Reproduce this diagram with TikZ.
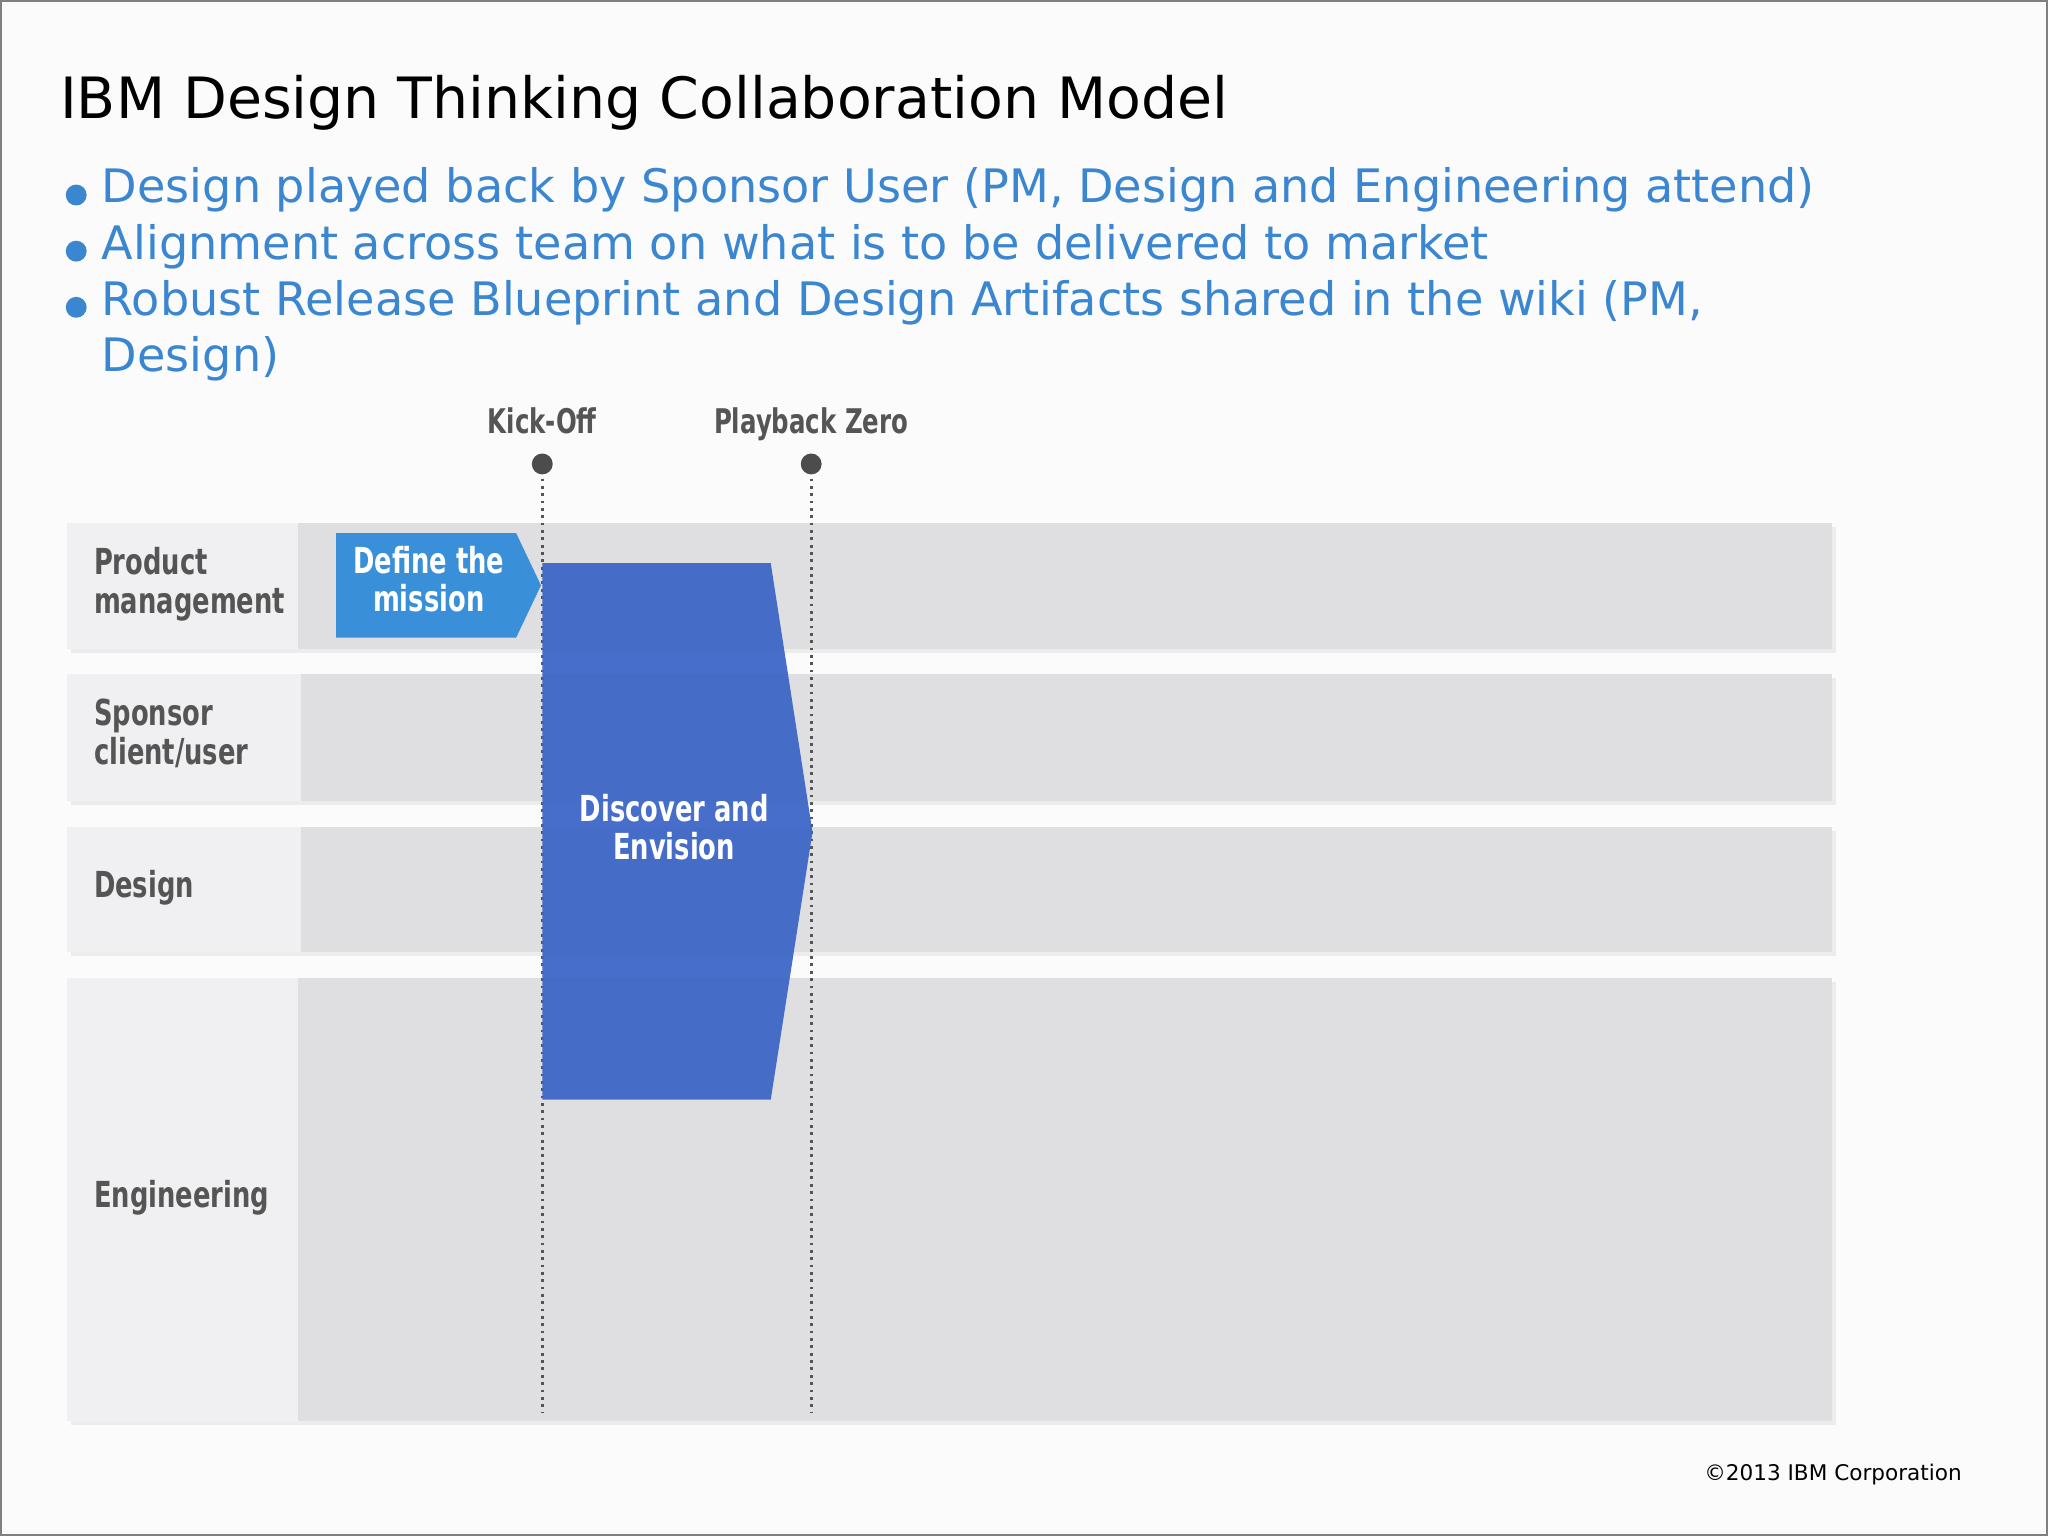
\documentclass[tikz,border=0pt]{standalone}
\usepackage{fontspec}
\usepackage{graphicx}
\setmainfont{DejaVu Sans}
\newfontfamily\condf{DejaVu Sans Condensed}
\newcommand\cndl[1]{\scalebox{0.8}[1]{\begin{tabular}{@{}l@{}}#1\end{tabular}}}
\newcommand\cndc[1]{\scalebox{0.8}[1]{\begin{tabular}{@{}c@{}}#1\end{tabular}}}
\definecolor{bg}{HTML}{FBFBFC}
\definecolor{lanel}{HTML}{F0EFF1}
\definecolor{lane}{HTML}{DFDEE1}
\definecolor{bul}{HTML}{3A86D0}
\definecolor{defc}{HTML}{3A8FD9}
\definecolor{disc}{HTML}{3F69C8}
\definecolor{lbl}{HTML}{555555}
\tikzset{
 lanelab/.style={fill=lanel},
 lanebody/.style={fill=lane},
 lanetext/.style={anchor=west,inner sep=0,text=lbl,font=\condf\bfseries\fontsize{7.8}{8.4}\selectfont},
 btext/.style={anchor=base west,text=bul,font=\fontsize{10.05}{12}\selectfont,inner sep=0},
 mstone/.style={text=lbl,font=\condf\bfseries\fontsize{7.4}{8}\selectfont},
 boxtext/.style={text=white,inner sep=0,font=\condf\bfseries\fontsize{7.8}{8}\selectfont},
 vline/.style={densely dotted,line width=0.6pt,draw=lbl},
}
\begin{document}
\begin{tikzpicture}[x=0.01cm,y=-0.01cm]
\fill[bg] (0,0) rectangle (1568,1176);
\draw[gray,line width=0.5pt] (0.5,0.5) rectangle (1567.5,1175.5);
\node[anchor=base west,inner sep=0,font=\fontsize{12.4}{14}\selectfont] (title) at (45,90) {IBM Design Thinking Collaboration Model};
\foreach \y/\t [count=\i] in {143/{Design played back by Sponsor User (PM, Design and Engineering attend)},186/{Alignment across team on what is to be delivered to market},229/{Robust Release Blueprint and Design Artifacts shared in the wiki (PM,}}{
 \fill[bul] (58,\y+6) circle (8);
 \node[btext] (b\i) at (77,\y+12) {\t};
}
\node[btext] (b4) at (77,284) {Design)};
% lanes
\foreach \a/\b/\lx/\n/\t in {400/497/228/pm/{Product\\management},516/613/230/sp/{Sponsor\\client/user},633/729/230/de/{Design},749/1088/228/en/{Engineering}}{
 \fill[black,opacity=0.06] (54,\a+3) rectangle (1406,\b+3);
 \fill[lanelab] (51,\a) rectangle (\lx,\b);
 \fill[lanebody] (\lx,\a) rectangle (1403,\b);
 \node[lanetext] (\n) at (71,{(\a+\b)/2}) {\cndl{\t}};
}
% milestones
\coordinate (k1) at (415,355); \coordinate (k2) at (415,1082);
\coordinate (p1) at (621,355); \coordinate (p2) at (621,1082);
\draw[vline] (k1) -- (k2);
\draw[vline] (p1) -- (p2);
\fill[lbl!90!black] (k1) circle (8);
\fill[lbl!90!black] (p1) circle (8);
\node[mstone] (ko) at (415,326) {\cndc{Kick-Off}};
\node[mstone] (pz) at (621,326) {\cndc{Playback Zero}};
% define the mission
\fill[defc] (257,408) -- (395,408) -- (414,448) -- (395,488) -- (257,488) -- cycle;
\node[boxtext] (dm) at (328,447) {\cndc{Define the\\mission}};
% discover
\fill[disc,opacity=0.96] (415,431) -- (590,431) -- (622,637) -- (590,842) -- (415,842) -- cycle;
\node[boxtext] (de2) at (516,637) {\cndc{Discover and\\Envision}};
\node[anchor=base east,inner sep=0,font=\fontsize{4.7}{6}\selectfont] (cp) at (1503,1134) {©2013 IBM Corporation};
\end{tikzpicture}
\end{document}
